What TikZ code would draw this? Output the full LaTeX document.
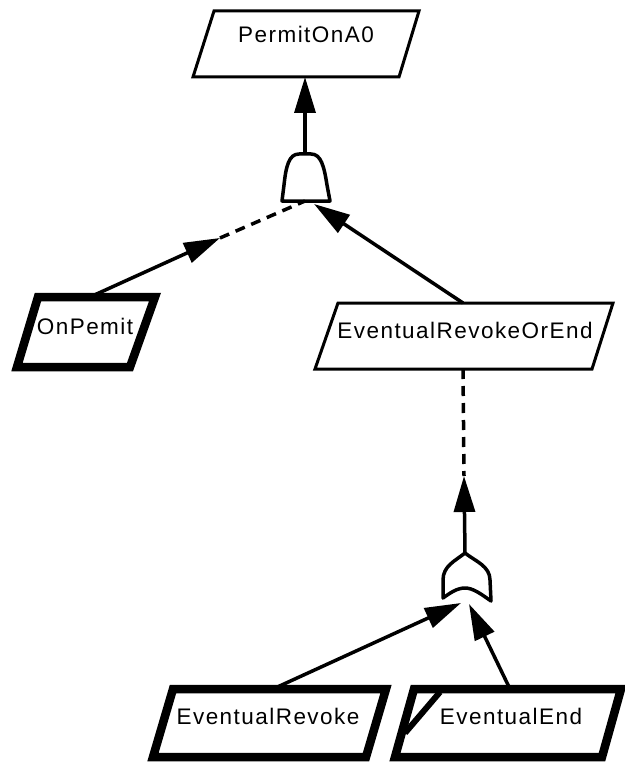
\documentclass[tikz,border=0pt]{standalone}
\usepackage{fontspec}
\newfontfamily\lblfont[LetterSpace=6.5]{Liberation Sans}
\usetikzlibrary{arrows.meta}
\begin{document}
\begin{tikzpicture}[x=1pt,y=-1pt,
  thinbox/.style={draw=black, line width=3pt, line join=miter, fill=white},
  thickbox/.style={draw=black, line width=8.5pt, line join=miter, fill=white},
  gate/.style={draw=black, line width=3.5pt, fill=white, line join=round},
  lbl/.style={font=\lblfont\fontsize{22.5}{26}\selectfont, inner sep=0pt, anchor=base},
  edge/.style={draw=black, line width=3.5pt, -{Triangle[length=36pt,width=21pt]}},
  dashedge/.style={draw=black, line width=3.5pt, dash pattern=on 10pt off 7pt}]
\useasboundingbox (0,0) rectangle (624,762);

% ---------- boxes ----------
\draw[thinbox] (214,11) -- (419,11) -- (399,77) -- (193,77) -- cycle;
\node[lbl] (permit) at (306,43) {PermitOnA0};
\coordinate (permitS) at (305,77);

\draw[thickbox] (38,297) -- (155,297) -- (130,367) -- (17,367) -- cycle;
\node[lbl] (onpemit) at (85,334) {OnPemit};
\coordinate (onpemitN) at (90,297);

\draw[thinbox] (338,303) -- (613,303) -- (592,369) -- (315,369) -- cycle;
\node[lbl] (eroe) at (465,338) {EventualRevokeOrEnd};
\coordinate (eroeN) at (463,303);
\coordinate (eroeS) at (463,369);

\draw[thickbox] (173,689) -- (386,689) -- (366,757) -- (153,757) -- cycle;
\node[lbl] (er) at (268,724) {EventualRevoke};
\coordinate (erN) at (273,689);

\draw[thickbox] (414,689) -- (621,689) -- (602,757) -- (395,757) -- cycle;
\draw[black, line width=6pt] (440,692) -- (405,733);
\node[lbl] (ee) at (511,724) {EventualEnd};
\coordinate (eeN) at (510,689);

% ---------- gates ----------
\draw[gate] (282,201) -- (284,185) .. controls (286,166) and (289,154) .. (299,154)
  -- (311,154) .. controls (321,154) and (324,166) .. (327,185) -- (330,201) -- cycle;
\coordinate (andN) at (305,154);
\coordinate (andS) at (305,201);
\coordinate (andR) at (314,204);

\draw[gate] (443,598) -- (443,580) .. controls (443,566) and (455,561) .. (465,553)
  .. controls (475,561) and (490,566) .. (490,580) -- (491,601)
  .. controls (481,594) and (473,588) .. (465,588)
  .. controls (457,588) and (450,593) .. (443,598) -- cycle;
\coordinate (orN) at (465,553);
\coordinate (orL) at (461,603);
\coordinate (orR) at (469,604);

% ---------- connectors ----------
\coordinate (m1) at (220,238);
\coordinate (m2) at (464,476);

\draw[edge] (andN) -- (permitS);
\draw[edge] (onpemitN) -- (m1);
\draw[dashedge] (m1) -- (andS);
\draw[edge] (eroeN) -- (andR);
\draw[dashedge] (eroeS) -- (m2);
\draw[edge] (orN) -- (m2);
\draw[edge] (erN) -- (orL);
\draw[edge] (eeN) -- (orR);
\end{tikzpicture}
\end{document}
